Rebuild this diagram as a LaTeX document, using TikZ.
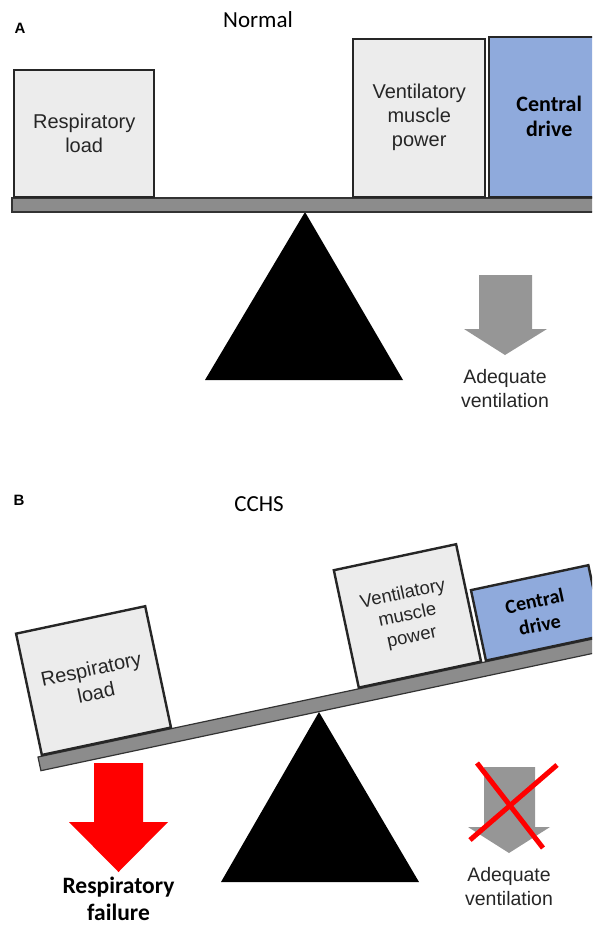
\documentclass[tikz,border=0pt]{standalone}
\usepackage{fontspec}
\newfontfamily\arialfont{Liberation Sans}
\newfontfamily\calibrifont{Carlito}
\usetikzlibrary{positioning}
\definecolor{boxgray}{RGB}{236,236,236}
\definecolor{driveblue}{RGB}{143,170,220}
\definecolor{beamgray}{RGB}{140,140,140}
\definecolor{arrowgray}{RGB}{150,150,150}

\begin{document}
\begin{tikzpicture}[
  x=1pt, y=-1pt,
  node distance=11pt,
  box/.style={rectangle, draw=black!85, line width=2.4pt, fill=boxgray, inner sep=0pt, align=center, text=black!85, font=\arialfont\fontsize{20}{24}\selectfont},
  drivebox/.style={box, fill=driveblue, text=black, font=\calibrifont\bfseries\fontsize{22}{25}\selectfont},
  beam/.style={draw=black!80, line width=1.2pt, fill=beamgray},
  blockarrow/.style={fill=arrowgray},
  caption/.style={align=center, text=black!85, font=\arialfont\fontsize{19.5}{24}\selectfont},
  boldcaption/.style={align=center, font=\calibrifont\bfseries\fontsize{23.5}{27}\selectfont},
  title/.style={font=\calibrifont\fontsize{23}{27}\selectfont},
  panel/.style={font=\arialfont\bfseries\fontsize{15}{17}\selectfont}
]
\clip (0,0) rectangle (592,926);

\node[panel] (labA) at (20,28) {A};
\node[title] (titleA) at (258,20) {Normal};

\fill (305,212) -- (403,380) -- (205,380) -- cycle;
\path[beam] (12,198) rectangle (600,212);

\node[box, anchor=south west, minimum width=140pt, minimum height=127pt] (loadA) at (13,198) {Respiratory\\load};
\node[box, anchor=south west, minimum width=132pt, minimum height=158pt] (powerA) at (352,198) {Ventilatory\\muscle\\power};
\node[drivebox, anchor=south west, minimum width=120pt, minimum height=160pt] (driveA) at (488,198) {Central\\drive};

\fill[blockarrow] (479,275) -- (532,275) -- (532,329) -- (547,329) -- (505,355) -- (464,329) -- (479,329) -- cycle;
\coordinate (tipA) at (505,355);
\node[caption, below=of tipA] (ventA) {Adequate\\ventilation};

\node[panel] (labB) at (19,500) {B};
\node[title] (titleB) at (259,504) {CCHS};

\fill (319,712) -- (419,882) -- (221,882) -- cycle;
\begin{scope}[shift={(38,757)}, rotate=12, transform shape]
  \path[beam] (0,0) rectangle (600,14);
  \node[box, anchor=south west, minimum width=132pt, minimum height=124pt] (loadB) at (3,0) {Respiratory\\load};
  \node[box, anchor=south west, minimum width=125pt, minimum height=120pt, font=\arialfont\fontsize{18.5}{22}\selectfont] (powerB) at (327,0) {Ventilatory\\muscle\\power};
  \node[drivebox, anchor=south west, minimum width=120pt, minimum height=72pt, font=\calibrifont\bfseries\fontsize{20}{24}\selectfont] (driveB) at (457,0) {Central\\drive};
\end{scope}

\fill[red] (94,763) -- (143,763) -- (143,822) -- (168,822) -- (118.5,872) -- (69,822) -- (94,822) -- cycle;
\coordinate (tipF) at (118.5,872);
\node[boldcaption, below=1pt of tipF] (failB) {Respiratory\\failure};

\fill[blockarrow] (484,767) -- (535,767) -- (535,827) -- (550,827) -- (509,853) -- (468,827) -- (484,827) -- cycle;
\coordinate (tipB) at (509,853);
\node[caption, below=of tipB] (ventB) {Adequate\\ventilation};
\draw[red, line width=5pt] (477,763) -- (543,848);
\draw[red, line width=5pt] (557,765) -- (470,840);

\end{tikzpicture}
\end{document}
